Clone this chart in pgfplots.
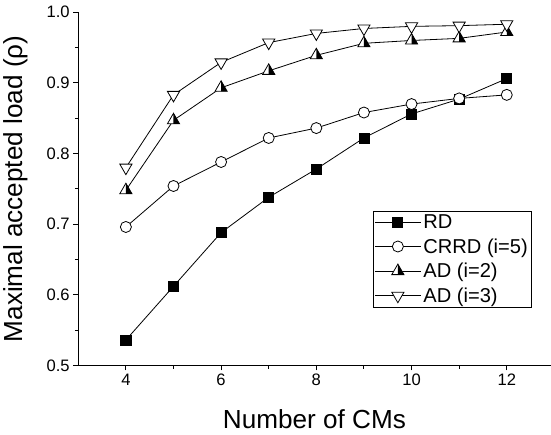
\documentclass[border=0pt]{standalone}
\usepackage{fontspec}
\setmainfont{Liberation Sans}
\usepackage{pgfplots}
\pgfplotsset{compat=1.18}

\pgfdeclareplotmark{halftri}{%
  \pgfpathmoveto{\pgfqpointpolar{90}{\pgfplotmarksize}}%
  \pgfpathlineto{\pgfqpointpolar{210}{\pgfplotmarksize}}%
  \pgfpathlineto{\pgfqpointpolar{-30}{\pgfplotmarksize}}%
  \pgfpathclose
  \pgfsetfillcolor{white}\pgfusepathqfillstroke
  \pgfpathmoveto{\pgfqpointpolar{90}{\pgfplotmarksize}}%
  \pgfpathlineto{\pgfqpoint{0pt}{-.5\pgfplotmarksize}}%
  \pgfpathlineto{\pgfqpointpolar{-30}{\pgfplotmarksize}}%
  \pgfpathclose
  \pgfsetfillcolor{black}\pgfusepathqfill
}
\pgfdeclareplotmark{dtri}{%
  \pgfpathmoveto{\pgfqpointpolar{270}{\pgfplotmarksize}}%
  \pgfpathlineto{\pgfqpointpolar{30}{\pgfplotmarksize}}%
  \pgfpathlineto{\pgfqpointpolar{150}{\pgfplotmarksize}}%
  \pgfpathclose
  \pgfsetfillcolor{white}\pgfusepathqfillstroke
}

\begin{document}
\begin{tikzpicture}
\begin{axis}[
  scale only axis,
  width=470pt, height=351.5pt,
  xmin=3, xmax=12.92, ymin=0.5, ymax=1.0,
  axis lines=left,
  axis line style={-, line width=0.9pt},
  xtick={4,6,8,10,12},
  minor xtick={5,7,9,11},
  ytick={0.5,0.6,0.7,0.8,0.9,1.0},
  minor ytick={0.55,0.65,0.75,0.85,0.95},
  yticklabel style={/pgf/number format/fixed,/pgf/number format/precision=1,/pgf/number format/fixed zerofill},
  /pgf/number format/assume math mode=true,
  tick align=outside,
  major tick length=5pt, minor tick length=3.5pt,
  tick style={line width=0.9pt, black},
  tick label style={font=\fontsize{16.5}{18}\selectfont},
  label style={font=\fontsize{26}{30}\selectfont},
  xlabel style={yshift=-17pt},
  ylabel shift=12pt,
  xlabel={Number of CMs},
  ylabel={Maximal accepted load (ρ)},
  legend style={at={(0.96,0.438)}, anchor=north east, draw=black, line width=0.7pt,
    font=\fontsize{20}{24}\selectfont, cells={anchor=west}, inner sep=1.5pt, row sep=4.5pt},
  legend image code/.code={\draw[mark repeat=2,mark phase=2] plot coordinates {(0pt,0pt) (23pt,0pt) (46pt,0pt)};},
  every axis plot/.append style={line width=0.8pt, black},
]
\addplot[mark=square*, mark size=5pt, mark options={fill=black}] coordinates {
(4,0.536) (5,0.612) (6,0.688) (7,0.738) (8,0.778) (9,0.822) (10,0.856) (11,0.877) (12,0.906)};
\addlegendentry{RD}
\addplot[mark=*, mark size=5.5pt, mark options={fill=white}] coordinates {
(4,0.696) (5,0.754) (6,0.788) (7,0.822) (8,0.836) (9,0.858) (10,0.870) (11,0.878) (12,0.883)};
\addlegendentry{CRRD (i=5)}
\addplot[mark=halftri, mark size=7pt] coordinates {
(4,0.748) (5,0.847) (6,0.893) (7,0.917) (8,0.939) (9,0.956) (10,0.960) (11,0.963) (12,0.972)};
\addlegendentry{AD (i=2)}
\addplot[mark=dtri, mark size=7pt] coordinates {
(4,0.780) (5,0.883) (6,0.929) (7,0.957) (8,0.970) (9,0.977) (10,0.980) (11,0.981) (12,0.983)};
\addlegendentry{AD (i=3)}
\end{axis}
\path ([yshift=3pt]current bounding box.north) circle (0pt);
\path ([yshift=-2pt]current bounding box.south) circle (0pt);
\end{tikzpicture}
\end{document}
